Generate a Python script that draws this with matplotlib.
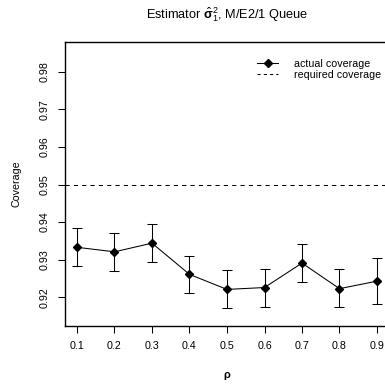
import matplotlib
matplotlib.use("Agg")
import matplotlib.pyplot as plt
from matplotlib.lines import Line2D

plt.rcParams['font.family'] = ['Liberation Sans', 'DejaVu Sans']
plt.rcParams['mathtext.fontset'] = 'custom'
plt.rcParams['mathtext.rm'] = 'Liberation Sans'
plt.rcParams['mathtext.it'] = 'Liberation Sans:italic'
plt.rcParams['mathtext.bf'] = 'Liberation Sans:bold'

rho = [0.1, 0.2, 0.3, 0.4, 0.5, 0.6, 0.7, 0.8, 0.9]
coverage = [0.9333, 0.9321, 0.9344, 0.9261, 0.9221, 0.9226, 0.9291, 0.9223, 0.9243]
upper = [0.9384, 0.9372, 0.9396, 0.9311, 0.9273, 0.9276, 0.9342, 0.9276, 0.9305]
lower = [0.9283, 0.9271, 0.9294, 0.9211, 0.9171, 0.9175, 0.9241, 0.9173, 0.9182]
required = 0.95
xticks = [0.1, 0.2, 0.3, 0.4, 0.5, 0.6, 0.7, 0.8, 0.9]
yticks = [0.92, 0.93, 0.94, 0.95, 0.96, 0.97, 0.98]

W, H = 385, 390
fig = plt.figure(figsize=(W / 100, H / 100), dpi=100)
L, R, T, B = 65, 389, 42, 326
ax = fig.add_axes([L / W, (H - B) / H, (R - L) / W, (B - T) / H])

yerr = [[c - l for c, l in zip(coverage, lower)], [u - c for c, u in zip(coverage, upper)]]
ax.errorbar(rho, coverage, yerr=yerr, fmt='none', ecolor='black', elinewidth=0.75,
            capsize=3.3, capthick=0.75)
ax.plot(rho, coverage, color='black', lw=0.75, marker='D', markersize=4.4,
        markerfacecolor='black', markeredgecolor='black')
ax.axhline(required, color='black', lw=0.75, dashes=(4, 4))

ax.set_xlim(0.068, 0.932)
ax.set_ylim(0.91237, 0.9879)
ax.set_xticks(xticks)
ax.set_xticklabels([f"{v:.1f}" for v in xticks])
ax.set_yticks(yticks)
ax.set_yticklabels([f"{v:.2f}" for v in yticks], rotation=90, va='center')
ax.tick_params(axis='both', length=5, width=0.75, pad=6, labelsize=7.7, direction='out')
for s in ax.spines.values():
    s.set_linewidth(1.0)

fig.text(227 / W, (H - 19) / H, r"Estimator $\hat{\mathbf{\sigma}}_1^2$, M/E2/1 Queue",
         ha='center', va='baseline', fontsize=9.2)
fig.text(17 / W, (H - 184) / H, "Coverage", rotation=90, ha='center', va='center', fontsize=7.7)
fig.text(227 / W, (H - 375) / H, "ρ", ha='center', va='center', fontsize=8, fontweight='bold')

handles = [Line2D([], [], color='black', lw=0.75, marker='D', markersize=3.8),
           Line2D([], [], color='black', lw=0.75, dashes=(3, 3))]
fig.legend(handles, ["actual coverage", "required coverage"], loc='upper left',
           bbox_to_anchor=(257 / W, (H - 59) / H), frameon=False, fontsize=7.7,
           handlelength=2.0, handletextpad=1.5, labelspacing=0.05, borderpad=0,
           borderaxespad=0)

fig.savefig("out.png", dpi=100)
